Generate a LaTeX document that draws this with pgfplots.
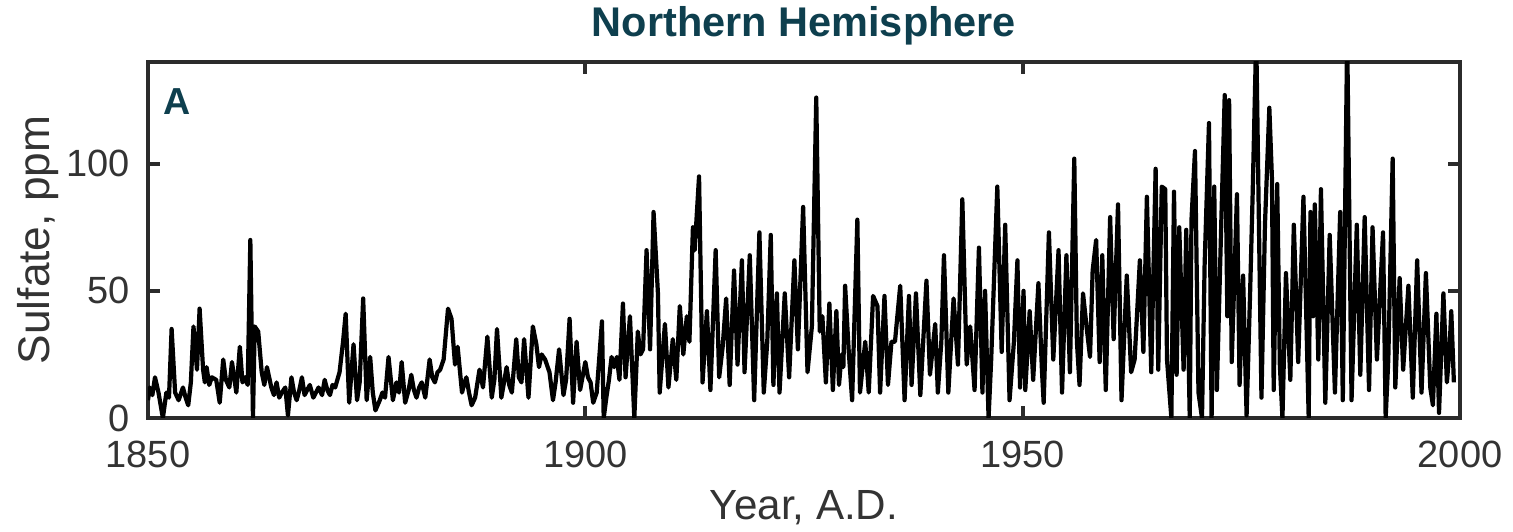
\documentclass[border=0pt]{standalone}
\usepackage{pgfplots}
\pgfplotsset{compat=1.18}
\usepackage{pgfplotstable}
\usepackage{fontspec}
\setmainfont{Liberation Sans}
\definecolor{tealA}{HTML}{0E3F4E}
\definecolor{framec}{HTML}{2B2B2B}
\definecolor{txt}{HTML}{333333}

\pgfplotstableread{
year val
1850.0 7
1850.2 12
1850.5 9
1850.8 16
1851.2 10
1851.7 0
1852.1 10
1852.4 8
1852.7 35
1853.1 10
1853.5 7
1854.0 12
1854.3 8
1854.6 5
1854.9 14
1855.2 36
1855.6 19
1855.9 43
1856.3 19
1856.5 14
1856.7 20
1857.0 13
1857.3 16
1857.8 15
1858.2 6
1858.6 23
1858.9 15
1859.3 12
1859.6 22
1860.1 10
1860.5 28
1860.8 14
1861.1 16
1861.4 13
1861.7 70
1862.0 0
1862.2 36
1862.6 34
1863.0 18
1863.3 13
1863.6 20
1864.1 12
1864.4 9
1864.7 14
1865.0 8
1865.3 10
1865.7 12
1866.0 1
1866.4 16
1866.7 10
1867.0 7
1867.3 11
1867.6 16
1867.9 9
1868.2 11
1868.5 13
1868.9 8
1869.2 10
1869.5 12
1869.9 9
1870.2 15
1870.5 11
1870.8 9
1871.1 13
1871.4 12
1871.9 18
1872.3 30
1872.6 41
1873.0 6
1873.5 29
1873.9 7
1874.2 14
1874.6 47
1875.0 7
1875.2 15
1875.4 24
1875.7 10
1876.0 3
1876.5 7
1876.8 10
1877.1 8
1877.5 24
1878.0 7
1878.4 14
1878.7 10
1879.0 22
1879.4 6
1879.8 11
1880.1 17
1880.4 11
1880.7 8
1881.0 12
1881.3 14
1881.7 8
1882.2 23
1882.5 16
1882.8 14
1883.1 18
1883.4 19
1883.8 23
1884.3 43
1884.7 39
1885.1 21
1885.4 28
1885.9 10
1886.2 14
1886.4 16
1886.7 10
1887.0 5
1887.4 8
1887.9 19
1888.3 12
1888.8 32
1889.3 8
1889.6 15
1889.9 35
1890.4 8
1890.7 14
1891.0 20
1891.3 13
1891.6 10
1892.1 31
1892.4 16
1892.7 14
1893.0 31
1893.5 8
1894.0 36
1894.4 29
1894.7 20
1895.0 25
1895.4 23
1895.9 18
1896.3 7
1896.6 14
1897.0 27
1897.5 9
1897.8 15
1898.2 39
1898.6 6
1899.0 30
1899.4 11
1900.0 22
1900.3 16
1900.6 14
1900.9 6
1901.3 10
1901.9 38
1902.1 0
1902.4 8
1902.7 15
1903.0 24
1903.3 20
1903.6 24
1903.9 15
1904.3 45
1904.6 16
1905.1 40
1905.6 0
1906.0 34
1906.3 25
1906.6 27
1907.0 66
1907.4 27
1907.8 81
1908.3 49
1908.5 10
1909.1 37
1909.5 12
1910.0 31
1910.4 15
1910.8 44
1911.2 25
1911.6 40
1911.9 30
1912.3 75
1912.5 66
1913.0 95
1913.4 14
1913.9 42
1914.3 11
1914.9 66
1915.3 16
1915.7 28
1916.1 47
1916.5 13
1917.0 58
1917.4 21
1917.9 62
1918.2 18
1918.8 64
1919.3 7
1919.9 73
1920.4 10
1920.8 30
1921.2 72
1921.5 13
1921.9 49
1922.2 10
1922.8 49
1923.3 16
1923.9 62
1924.3 27
1924.9 83
1925.4 18
1925.9 36
1926.4 126
1926.8 34
1927.1 40
1927.5 14
1927.9 45
1928.3 11
1928.7 42
1929.0 13
1929.3 25
1929.5 20
1929.7 52
1930.1 27
1930.5 7
1931.1 78
1931.4 10
1932.0 30
1932.4 10
1932.9 48
1933.4 44
1933.7 10
1934.2 48
1934.6 13
1935.0 30
1935.4 30
1936.0 52
1936.5 7
1937.0 48
1937.3 13
1937.8 49
1938.3 9
1939.0 54
1939.4 17
1940.0 37
1940.3 10
1940.7 30
1941.0 64
1941.5 10
1942.1 47
1942.6 21
1943.1 86
1943.6 21
1944.0 36
1944.5 11
1945.0 67
1945.4 10
1945.7 50
1946.1 0
1946.4 23
1947.1 91
1947.6 26
1948.0 76
1948.5 7
1949.0 30
1949.4 62
1949.7 12
1950.1 50
1950.3 11
1950.8 42
1951.2 15
1951.8 53
1952.2 19
1952.4 6
1953.0 73
1953.5 23
1954.1 66
1954.5 10
1955.0 64
1955.4 18
1955.9 102
1956.2 30
1956.5 13
1956.9 49
1957.3 36
1957.7 24
1958.0 58
1958.4 70
1958.8 22
1959.1 64
1959.5 11
1960.0 79
1960.4 31
1960.9 84
1961.3 7
1961.9 56
1962.4 18
1962.8 23
1963.4 62
1963.8 26
1964.2 87
1964.7 18
1965.2 98
1965.5 19
1965.9 91
1966.3 90
1966.5 23
1967.0 0
1967.3 89
1967.6 17
1967.9 75
1968.4 19
1968.7 74
1969.1 0
1969.3 78
1969.7 105
1970.1 10
1970.5 0
1970.8 60
1971.3 116
1971.6 0
1971.9 91
1972.2 11
1972.7 76
1973.1 127
1973.4 40
1973.6 125
1973.9 22
1974.5 88
1974.8 13
1975.2 56
1975.6 1
1976.0 49
1976.3 89
1976.7 150
1977.1 55
1977.3 8
1977.7 76
1978.2 122
1978.5 94
1978.7 11
1979.1 92
1979.4 21
1979.7 0
1980.1 57
1980.6 15
1981.0 76
1981.5 22
1982.1 87
1982.7 0
1982.9 81
1983.2 40
1983.4 84
1983.8 23
1984.1 90
1984.6 6
1985.1 72
1985.7 10
1986.3 81
1986.6 7
1987.1 150
1987.6 7
1988.2 76
1988.6 17
1989.1 79
1989.6 11
1990.0 75
1990.5 23
1991.2 73
1991.5 0
1991.8 23
1992.3 102
1992.6 12
1993.1 55
1993.5 19
1994.1 52
1994.6 8
1995.1 62
1995.6 10
1996.1 57
1996.6 12
1996.9 5
1997.3 41
1997.6 2
1998.1 49
1998.5 14
1998.8 27
1999.0 42
1999.3 14
}\sulfate

\begin{document}
\begin{tikzpicture}
\useasboundingbox (-1.48,-1.14) rectangle (13.65,4.18);
\begin{axis}[
  at={(0,0)}, anchor=south west,
  scale only axis, width=13.12cm, height=3.56cm,
  xmin=1850, xmax=2000, ymin=0, ymax=140,
  xtick={1850,1900,1950,2000}, ytick={0,50,100},
  tick align=inside, major tick length=0.12cm,
  axis line style={framec, line width=1.15pt},
  every tick/.style={framec, line width=1.15pt},
  tick label style={font=\fontsize{10.8}{12}\selectfont, text=txt},
  /pgf/number format/assume math mode=true,
  x tick label style={/pgf/number format/1000 sep={}, yshift=-0.11cm},
  y tick label style={xshift=-0.055cm},
]
\addplot[black, line width=1.2pt, line join=round] table[x=year, y=val] {\sulfate};
\end{axis}
\node[rotate=90, anchor=base, inner sep=0pt, text=txt, font=\fontsize{12.6}{14}\selectfont] at (-0.98,1.78) {Sulfate, ppm};
\node[anchor=base, inner sep=0pt, text=txt, font=\fontsize{12}{14}\selectfont] at (6.56,-1.02) {Year, A.D.};
\node[anchor=base, inner sep=0pt, text=tealA, font=\fontsize{11.8}{14}\selectfont\bfseries] at (6.56,3.81) {Northern Hemisphere};
\node[anchor=base west, inner sep=0pt, text=tealA, font=\fontsize{10.7}{13}\selectfont\bfseries] at (0.15,3.03) {A};
\end{tikzpicture}
\end{document}
